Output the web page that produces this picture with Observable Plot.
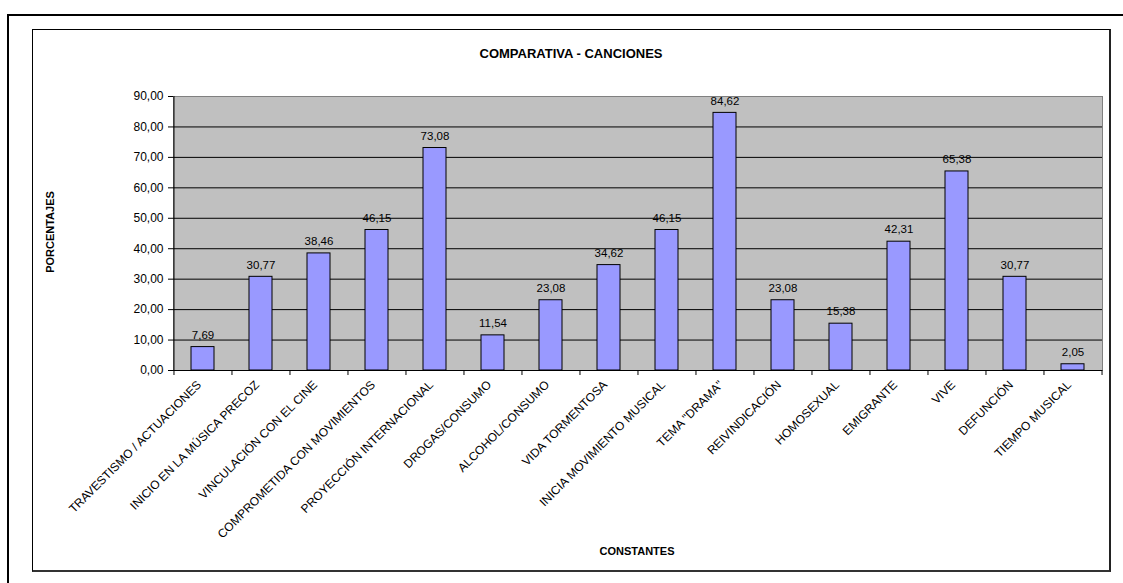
<!DOCTYPE html>
<html>
<head>
<meta charset="utf-8">
<script src="https://cdn.jsdelivr.net/npm/d3@7"></script>
<script src="https://cdn.jsdelivr.net/npm/@observablehq/plot@0.6"></script>
<style>
  html, body { margin: 0; padding: 0; background: #fff; }
  #wrap { position: relative; width: 1123px; height: 583px; overflow: hidden; font-family: "Liberation Sans", Arial, sans-serif; color: #000; }
  #outer { position: absolute; left: 7px; top: 14px; width: 1300px; height: 800px; border: 2px solid #000; box-sizing: border-box; }
  #inner { position: absolute; left: 32px; top: 29px; width: 1079px; height: 543px; border: 1px solid #000; border-right-width: 2px; border-bottom-width: 2px; box-sizing: border-box; border-right-color: #222; border-bottom-color: #333; }
  #chart { position: absolute; left: 0; top: 0; }
  .lbl { position: absolute; font-weight: bold; white-space: nowrap; transform: translate(-50%, -50%); }
  #title { left: 571px; top: 53px; font-size: 13px; }
  #ylab { left: 50px; top: 232px; font-size: 11px; transform: translate(-50%, -50%) rotate(-90deg); }
  #xlab { left: 637px; top: 551px; font-size: 11px; }
</style>
</head>
<body>
<div id="wrap">
  <div id="outer"></div>
  <div id="inner"></div>
  <div id="chart"></div>
  <div class="lbl" id="title">COMPARATIVA - CANCIONES</div>
  <div class="lbl" id="ylab">PORCENTAJES</div>
  <div class="lbl" id="xlab">CONSTANTES</div>
</div>
<script>
const categories = [
  "TRAVESTISMO / ACTUACIONES",
  "INICIO EN LA MÚSICA PRECOZ",
  "VINCULACIÓN CON EL CINE",
  "COMPROMETIDA CON MOVIMIENTOS",
  "PROYECCIÓN INTERNACIONAL",
  "DROGAS/CONSUMO",
  "ALCOHOL/CONSUMO",
  "VIDA TORMENTOSA",
  "INICIA MOVIMIENTO MUSICAL",
  "TEMA \"DRAMA\"",
  "REIVINDICACIÓN",
  "HOMOSEXUAL",
  "EMIGRANTE",
  "VIVE",
  "DEFUNCIÓN",
  "TIEMPO MUSICAL"
];
const values = [7.69, 30.77, 38.46, 46.15, 73.08, 11.54, 23.08, 34.62, 46.15, 84.62, 23.08, 15.38, 42.31, 65.38, 30.77, 2.05];
const yTicks = [0, 10, 20, 30, 40, 50, 60, 70, 80, 90];

const data = categories.map((c, i) => ({cat: c, value: values[i]}));
const fmt = d => d.toFixed(2).replace(".", ",");

const W = 1123, H = 583, mL = 173, mR = 21, mT = 96, mB = 213;
const step = (W - mL - mR) / categories.length;

const chart = Plot.plot({
  width: W, height: H,
  marginLeft: mL, marginRight: mR, marginTop: mT, marginBottom: mB,
  style: {fontFamily: '"Liberation Sans", Arial, sans-serif', fontSize: "12px", background: "transparent", color: "#000", overflow: "visible"},
  x: {type: "band", domain: categories, paddingInner: 0.6, paddingOuter: 0.3, axis: null},
  y: {domain: [0, 90], ticks: yTicks, tickFormat: fmt, tickSize: 5, tickPadding: 5, label: null},
  marks: [
    Plot.frame({fill: "#c0c0c0", stroke: "#808080"}),
    Plot.ruleY(yTicks.slice(1, -1), {stroke: "#000", strokeWidth: 1}),
    Plot.barY(data, {x: "cat", y: "value", fill: "#9999ff", stroke: "#000", strokeWidth: 1}),
    Plot.text(data, {x: "cat", y: "value", text: d => fmt(d.value), dy: -12, fill: "#000", fontSize: 11.5}),
    Plot.ruleY([0], {stroke: "#000", strokeWidth: 1}),
    Plot.ruleX([categories[0]], {dx: -step / 2, stroke: "#000", strokeWidth: 1}),
    Plot.ruleX(categories, {x: d => d, y1: () => 0, y2: () => 0, insetBottom: -5, dx: -step / 2, stroke: "#000"}),
    Plot.ruleX([categories[categories.length - 1]], {x: d => d, y1: () => 0, y2: () => 0, insetBottom: -5, dx: step / 2, stroke: "#000"}),
    Plot.text(categories, {x: d => d, frameAnchor: "bottom", rotate: -45, textAnchor: "end", dx: -1, dy: 15, fill: "#000", fontSize: 12})
  ]
});
document.getElementById("chart").appendChild(chart);
</script>
</body>
</html>
